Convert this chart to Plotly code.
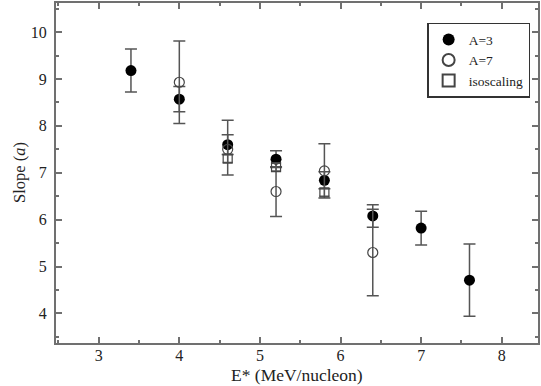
import plotly.graph_objects as go

# Data
x_a3 = [3.4, 4.0, 4.6, 5.2, 5.8, 6.4, 7.0, 7.6]
y_a3 = [9.18, 8.57, 7.60, 7.29, 6.84, 6.08, 5.82, 4.71]
e_a3 = [0.46, 0.27, 0.21, 0.18, 0.18, 0.24, 0.36, 0.77]

x_a7 = [4.0, 4.6, 5.2, 5.8, 6.4]
y_a7 = [8.93, 7.50, 6.60, 7.04, 5.30]
e_a7_up = [0.88, 0.62, 0.53, 0.58, 0.92]
e_a7_dn = [0.88, 0.55, 0.53, 0.58, 0.92]

x_iso = [4.6, 5.2, 5.8]
y_iso = [7.30, 7.12, 6.58]
e_iso = [0.08, 0.08, 0.08]

x_ticks = [3, 4, 5, 6, 7, 8]
y_ticks = [4, 5, 6, 7, 8, 9, 10]

font = "Liberation Serif"
axcol = "#707070"
errcol = "#555555"
txtcol = "#222222"

fig = go.Figure()
fig.add_trace(go.Scatter(
    x=x_a3, y=y_a3, mode="markers", name="A=3",
    marker=dict(symbol="circle", size=11, color="black"),
    error_y=dict(type="data", array=e_a3, color=errcol, thickness=1.5, width=6),
))
fig.add_trace(go.Scatter(
    x=x_a7, y=y_a7, mode="markers", name="A=7",
    marker=dict(symbol="circle-open", size=10, color="#444444", line=dict(width=1.2)),
    error_y=dict(type="data", array=e_a7_up, arrayminus=e_a7_dn, symmetric=False,
                 color=errcol, thickness=1.5, width=6),
))
fig.add_trace(go.Scatter(
    x=x_iso, y=y_iso, mode="markers", name="isoscaling",
    marker=dict(symbol="square-open", size=9, color="#444444", line=dict(width=1.2)),
    error_y=dict(type="data", array=e_iso, color=errcol, thickness=1.2, width=5),
))

axis_common = dict(
    showline=True, linecolor=axcol, linewidth=2, mirror="allticks",
    ticks="inside", ticklen=6, tickwidth=1.5, tickcolor=axcol,
    showgrid=False, zeroline=False, automargin=False,
    tickfont=dict(family=font, size=16, color=txtcol),
    minor=dict(ticks="inside", ticklen=3, tickwidth=1.5, tickcolor=axcol, dtick=0.5),
)

fig.update_xaxes(range=[2.47, 8.45], tickvals=x_ticks, ticktext=[str(v) for v in x_ticks],
                 ticklabelstandoff=-3, **axis_common)
fig.update_yaxes(range=[3.37, 10.62], tickvals=y_ticks, ticktext=[str(v) for v in y_ticks],
                 ticklabelstandoff=4, **axis_common)

fig.add_annotation(text="E* (MeV/nucleon)", xref="paper", yref="paper",
                   x=0.5, y=0, yshift=-32, xanchor="center", yanchor="middle",
                   showarrow=False, font=dict(family=font, size=17.5, color=txtcol))
fig.add_annotation(text="Slope (<i>a</i>)", xref="paper", yref="paper",
                   x=0, y=0.5, xshift=-37, xanchor="center", yanchor="middle", textangle=-90,
                   showarrow=False, font=dict(family=font, size=16.5, color=txtcol))

fig.update_layout(
    width=541, height=386,
    margin=dict(l=56, r=3, t=3, b=43, autoexpand=False),
    plot_bgcolor="white", paper_bgcolor="white",
    font=dict(family=font),
    showlegend=True,
    legend=dict(x=0.77, y=0.942, xanchor="left", yanchor="top",
                bordercolor="#333333", borderwidth=1.5, bgcolor="white",
                font=dict(family=font, size=13.5, color=txtcol),
                itemsizing="constant", tracegroupgap=0,
                itemwidth=30),
)

fig.write_html("out.html", config={"displayModeBar": False},
               post_script="document.body.style.margin='0';document.body.style.overflow='hidden';")
